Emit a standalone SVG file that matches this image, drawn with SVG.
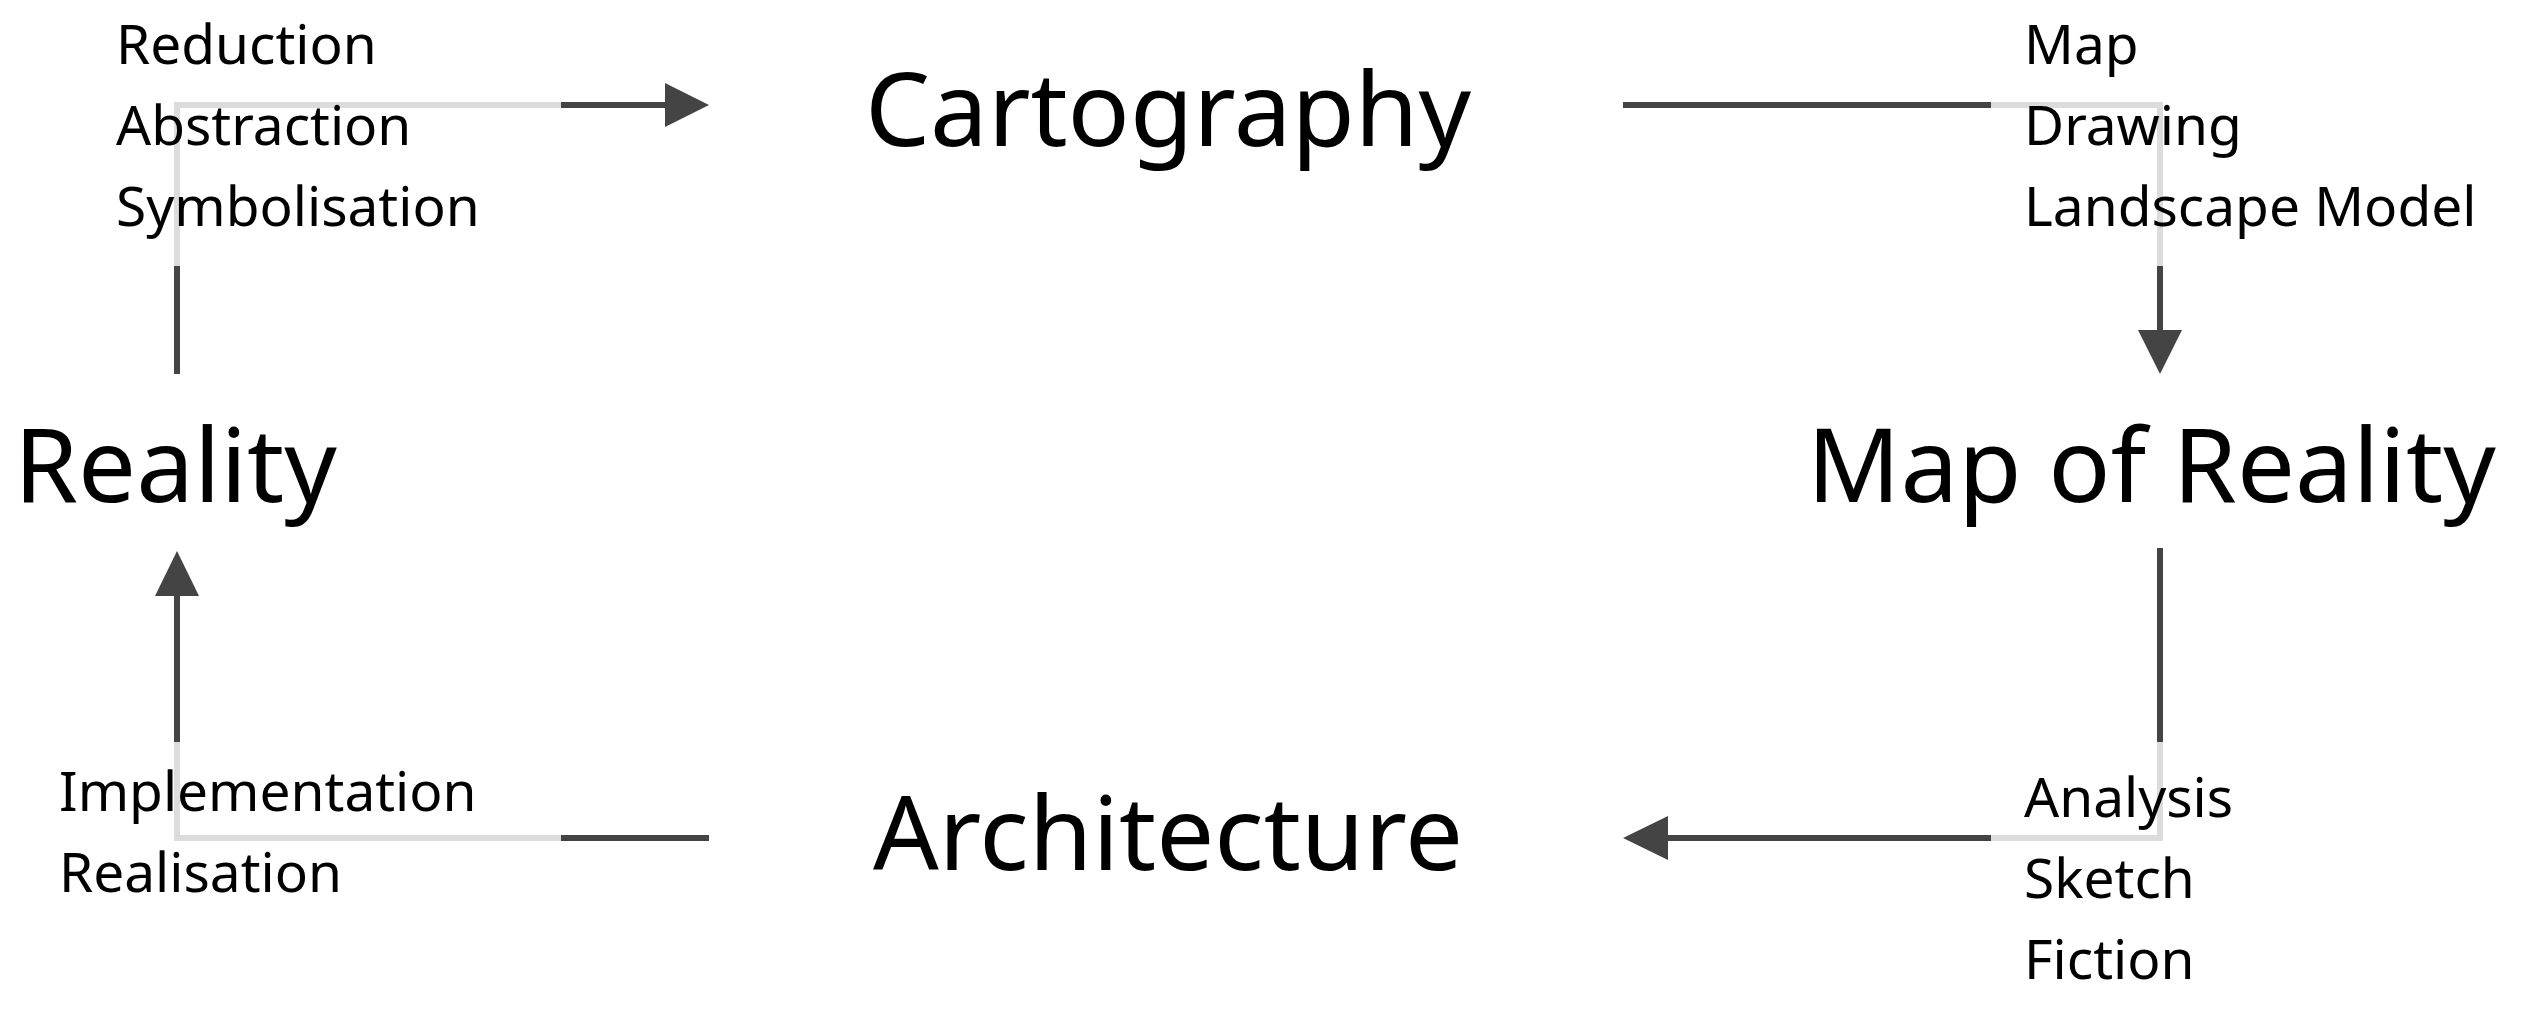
<svg xmlns="http://www.w3.org/2000/svg" width="2527" height="1011" viewBox="0 0 2527 1011">
<style>
.big{font-family:"Noto Sans","Open Sans",sans-serif;font-size:103px;fill:#000}
.small{font-family:"Noto Sans","Open Sans",sans-serif;font-size:55px;fill:#000}
.lt{stroke:#dcdcdc;stroke-width:6;fill:none}
.dk{stroke:#444;stroke-width:6;fill:none}
.ah{fill:#444}
</style>
<rect width="2527" height="1011" fill="#fff"/>
<g id="connectors">
<polyline class="lt" points="177,266 177,105 561,105"/>
<line class="dk" x1="177" y1="266" x2="177" y2="374"/>
<line class="dk" x1="561" y1="105" x2="670" y2="105"/>
<polygon class="ah" points="709,105 665,83 665,127"/>
<polyline class="lt" points="1991,105 2160,105 2160,266"/>
<line class="dk" x1="1623" y1="105" x2="1991" y2="105"/>
<line class="dk" x1="2160" y1="266" x2="2160" y2="335"/>
<polygon class="ah" points="2160,374 2138,330 2182,330"/>
<polyline class="lt" points="2160,742 2160,838 1991,838"/>
<line class="dk" x1="2160" y1="548" x2="2160" y2="742"/>
<line class="dk" x1="1991" y1="838" x2="1660" y2="838"/>
<polygon class="ah" points="1623,838 1668,816 1668,860"/>
<polyline class="lt" points="561,838 177,838 177,742"/>
<line class="dk" x1="561" y1="838" x2="709" y2="838"/>
<line class="dk" x1="177" y1="742" x2="177" y2="590"/>
<polygon class="ah" points="177,551 155,596 199,596"/>
</g>
<g id="cartography"><text class="big" x="865" y="146">Cartography</text></g>
<g id="reality"><text class="big" x="14" y="502">Reality</text></g>
<g id="map-of-reality"><text class="big" x="1807" y="502">Map of Reality</text></g>
<g id="architecture"><text class="big" x="873" y="870">Architecture</text></g>
<g id="label-top-left">
<text class="small" x="116" y="64">Reduction</text>
<text class="small" x="116" y="145">Abstraction</text>
<text class="small" x="116" y="226">Symbolisation</text>
</g>
<g id="label-top-right">
<text class="small" x="2024" y="64">Map</text>
<text class="small" x="2024" y="145">Drawing</text>
<text class="small" x="2024" y="226">Landscape Model</text>
</g>
<g id="label-bottom-right">
<text class="small" x="2024" y="817">Analysis</text>
<text class="small" x="2024" y="898">Sketch</text>
<text class="small" x="2024" y="979">Fiction</text>
</g>
<g id="label-bottom-left">
<text class="small" x="59" y="811">Implementation</text>
<text class="small" x="59" y="892">Realisation</text>
</g>
</svg>
